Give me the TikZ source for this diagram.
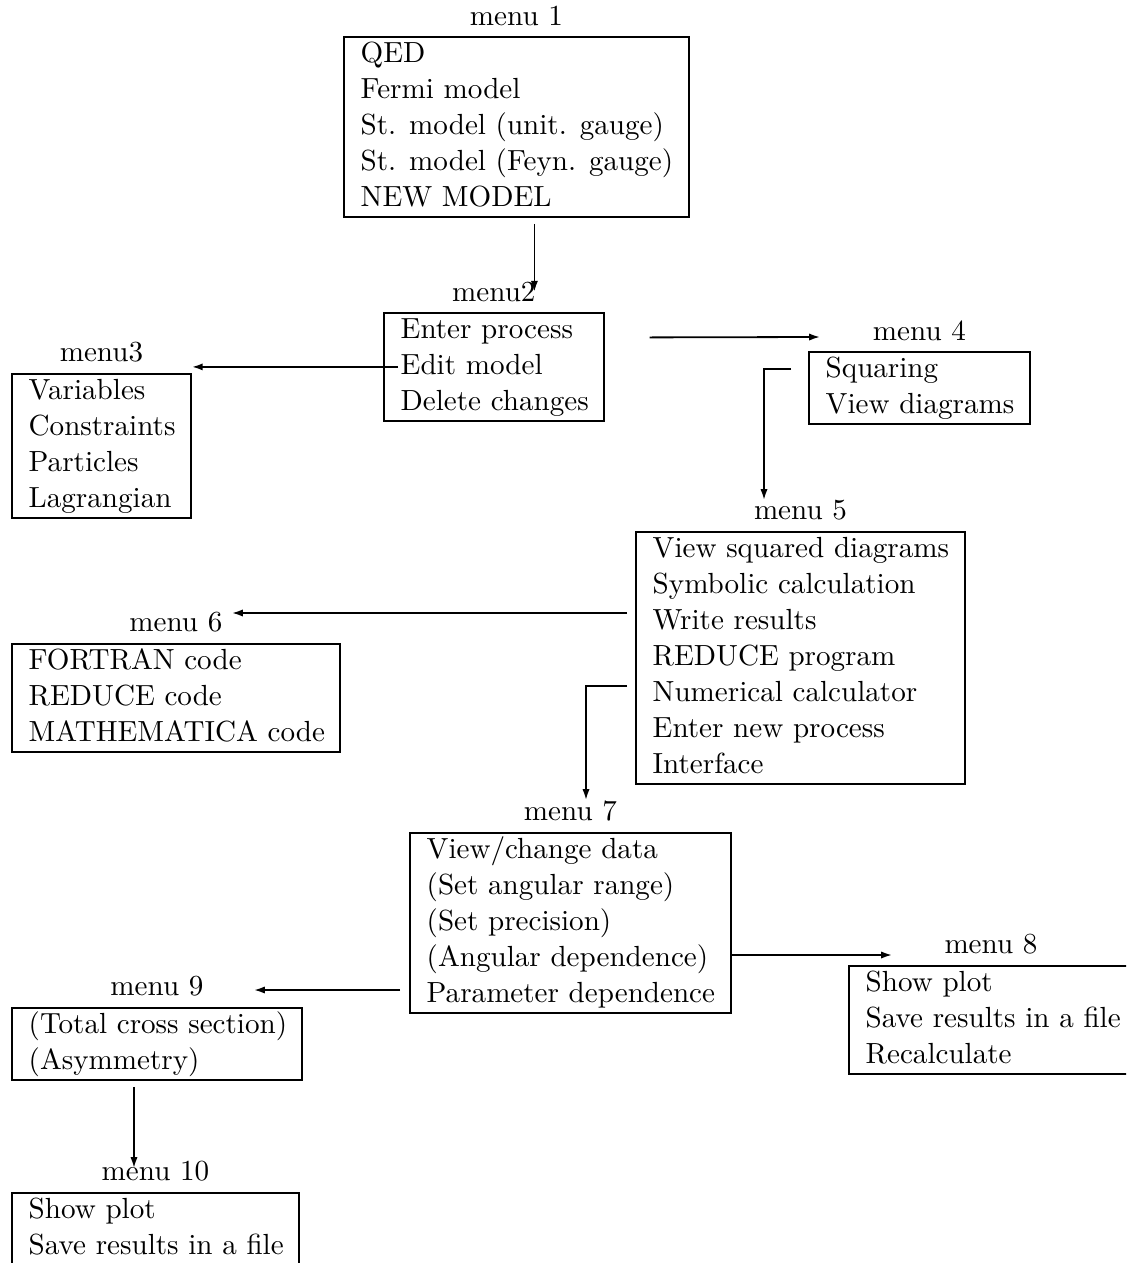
\documentclass[tikz,border=0pt]{standalone}
\usetikzlibrary{positioning,calc,arrows.meta}

\newcommand{\menulist}[2]{\makebox[#1][l]{\begin{tabular}{@{}l@{}}#2\end{tabular}}}

\tikzset{
  menubox/.style={draw, line width=0.6pt, anchor=north west, inner xsep=5.6pt, inner ysep=0pt},
  menutitle/.style={inner sep=0.3em},
  arr/.style={line width=0.6pt, -{Latex[length=3.6pt,width=2.4pt]}}
}

\begin{document}
\begin{tikzpicture}[x=0.3333pt, y=-0.3333pt, font=\fontsize{9.7}{12}\selectfont]
        \useasboundingbox (0,0) rectangle (1126,1263);
        \clip (0,0) rectangle (1126,1263);

        % menu boxes
        \node[menubox] (m1) at (343,36) {\menulist{103.8pt}{QED\\ Fermi model\\ St. model (unit. gauge)\\ St. model (Feyn. gauge)\\ NEW MODEL}};
        \node[menutitle, above=0.3pt of m1] (t1) {menu 1};

        \node[menubox] (m2) at (383,312) {\menulist{62.1pt}{Enter process\\ Edit model\\ Delete changes}};
        \node[menutitle, above=0.3pt of m2] (t2) {menu2};

        \node[menubox] (m3) at (11,373) {\menulist{48.5pt}{Variables\\ Constraints\\ Particles\\ Lagrangian}};
        \node[menutitle, above=0.3pt of m3] (t3) {menu3};

        \node[menubox] (m4) at (808,351) {\menulist{62.5pt}{Squaring\\ View diagrams}};
        \node[menutitle, above=0.3pt of m4] (t4) {menu 4};

        \node[menubox] (m5) at (635,531) {\menulist{98.5pt}{View squared diagrams\\ Symbolic calculation\\ Write results\\ REDUCE program\\ Numerical calculator\\ Enter new process\\ Interface}};
        \node[menutitle, above=0.3pt of m5] (t5) {menu 5};

        \node[menubox] (m6) at (11,643) {\menulist{98.1pt}{FORTRAN code\\ REDUCE code\\ MATHEMATICA code}};
        \node[menutitle, above=0.3pt of m6] (t6) {menu 6};

        \node[menubox] (m7) at (409,832) {\menulist{95.8pt}{View/change data\\ (Set angular range)\\ (Set precision)\\ (Angular dependence)\\ Parameter dependence}};
        \node[menutitle, above=0.3pt of m7] (t7) {menu 7};

        \node[menubox] (m8) at (848,965) {\menulist{83.5pt}{Show plot\\ Save results in a file\\ Recalculate}};
        \node[menutitle, above=0.3pt of m8] (t8) {menu 8};

        \node[menubox] (m9) at (11,1007) {\menulist{85.5pt}{(Total cross section)\\ (Asymmetry)}};
        \node[menutitle, above=0.3pt of m9] (t9) {menu 9};

        \node[menubox] (m10) at (11,1192) {\menulist{84.5pt}{Show plot\\ Save results in a file}};
        \node[menutitle, above=0.3pt of m10] (t10) {menu 10};

        % arrows
        \coordinate (p1) at ($(m1.south)+(18,6)$);
        \draw[arr] (p1) -- (p1 |- t2);

        \draw[arr] ([xshift=5pt]m2.west) -- (m2.west -| m3.east);
        \draw[arr] ($(m2.east)+(45,-29.5)$) -- ($(m4.north west)+(12,-14)$);

        \coordinate (p4) at ($(m4.north west)+(-17,18)$);
        \draw[arr] (p4) -| ($(m5.north west)+(129,-31)$);

        \coordinate (p5) at ($(m5.north west)+(-8,82)$);
        \draw[arr] (p5) -- (p5 -| t6.east);

        \coordinate (p6) at ($(m5.north west)+(-8,155)$);
        \draw[arr] (p6) -| ($(m7.north west)+(177,-32)$);

        \draw[arr] ($(m7.north east)+(0,123)$) -- ($(m8.north west)+(44,-10)$);
        \draw[arr] ($(m7.north west)+(-9,158)$) -- ($(m9.north west)+(243,-17)$);
        \draw[arr] ($(m9.south west)+(123,6)$) -- ($(m10.north west)+(123,-24)$);

    \end{tikzpicture}
\end{document}
